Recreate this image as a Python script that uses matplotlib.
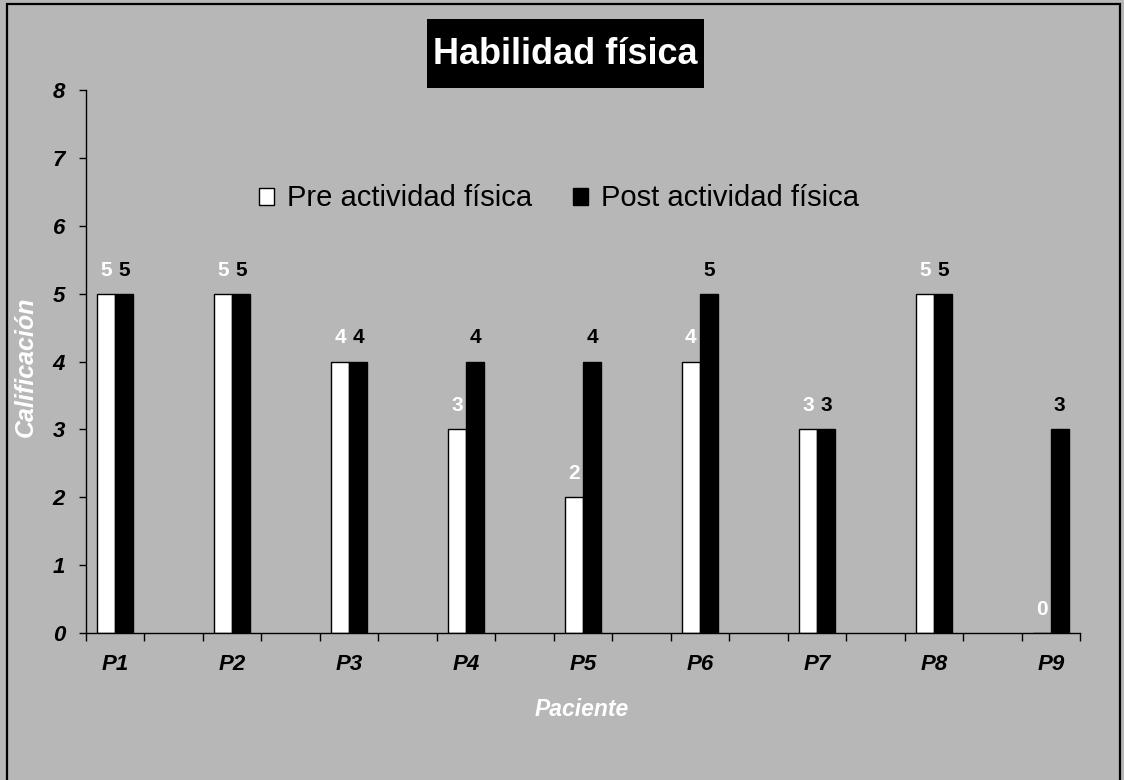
import matplotlib
matplotlib.use("Agg")
import matplotlib.pyplot as plt
from matplotlib.patches import Rectangle
import numpy as np

plt.rcParams['font.family'] = ['Liberation Sans', 'DejaVu Sans']

patients = ["P1", "P2", "P3", "P4", "P5", "P6", "P7", "P8", "P9"]
pre_scores = [5, 5, 4, 3, 2, 4, 3, 5, 0]
post_scores = [5, 5, 4, 4, 4, 5, 3, 5, 3]
series_names = ["Pre actividad física", "Post actividad física"]
y_ticks = [0, 1, 2, 3, 4, 5, 6, 7, 8]

BG = "#b7b7b7"
W, H = 1124, 780

fig = plt.figure(figsize=(W / 100, H / 100), dpi=100, facecolor=BG)

# outer frame of the chart area
fig.add_artist(Rectangle((7 / W, -0.05), (1120 - 7) / W, 1 - 4 / H + 0.05,
                         transform=fig.transFigure, fill=False,
                         edgecolor="black", linewidth=1.6))

ax = fig.add_axes([86 / W, 1 - 633 / H, (1080 - 86) / W, (633 - 90) / H])
ax.set_facecolor(BG)

x = np.arange(len(patients))
bw = 0.154
pre_bars = ax.bar(x - bw / 2, pre_scores, bw, color="white", edgecolor="black",
                  linewidth=1.0, label=series_names[0])
post_bars = ax.bar(x + bw / 2, post_scores, bw, color="black", edgecolor="black",
                   linewidth=1.0, label=series_names[1])

for bars, vals, col in ((pre_bars, pre_scores, "white"), (post_bars, post_scores, "black")):
    for b, v in zip(bars, vals):
        ax.annotate(f"{v}", (b.get_x() + b.get_width() / 2, v),
                    xytext=(0, 13), textcoords="offset points",
                    ha="center", va="baseline", fontsize=15,
                    fontweight="bold", color=col)

ax.set_xlim(-0.25, len(patients) - 0.75)
ax.set_ylim(0, 8)

ax.set_xticks(x)
ax.set_xticklabels(patients, fontsize=16, fontweight="bold", fontstyle="italic")
ax.set_xticks(np.arange(-0.25, len(patients) - 0.5, 0.5), minor=True)
ax.tick_params(axis="x", which="major", length=0, pad=15)
ax.tick_params(axis="x", which="minor", length=6, width=1.0, direction="out")

ax.set_yticks(y_ticks)
ax.set_yticklabels([str(t) for t in y_ticks], fontsize=16, fontweight="bold",
                   fontstyle="italic")
ax.tick_params(axis="y", length=5, width=1.0, direction="out", pad=10)

for s in ("top", "right"):
    ax.spines[s].set_visible(False)
for s in ("left", "bottom"):
    ax.spines[s].set_linewidth(1.0)
    ax.spines[s].set_color("black")

ax.set_xlabel("Paciente", fontsize=16.5, fontweight="bold", fontstyle="italic",
              color="white", va="center")
ax.xaxis.set_label_coords(0.4985, -0.141)
ax.set_ylabel("Calificación", fontsize=18, fontweight="bold", fontstyle="italic",
              color="white", va="center")
ax.yaxis.set_label_coords(-0.0604, 0.49)

# title on a black box
fig.add_artist(Rectangle((427 / W, 1 - 88 / H), (704 - 427) / W, (88 - 19) / H,
                         transform=fig.transFigure, facecolor="black",
                         edgecolor="none"))
fig.text(565.5 / W, 1 - 64 / H, "Habilidad física", fontsize=26,
         fontweight="bold", color="white", ha="center", va="baseline")

fig.legend(handles=[pre_bars, post_bars], labels=series_names,
           loc="center", bbox_to_anchor=(559 / W, 1 - 198.5 / H), ncol=2,
           frameon=False, fontsize=21, handlelength=0.52, handleheight=0.52,
           handletextpad=0.45, columnspacing=1.37, borderpad=0)

fig.savefig("out.png", dpi=100, facecolor=BG)
